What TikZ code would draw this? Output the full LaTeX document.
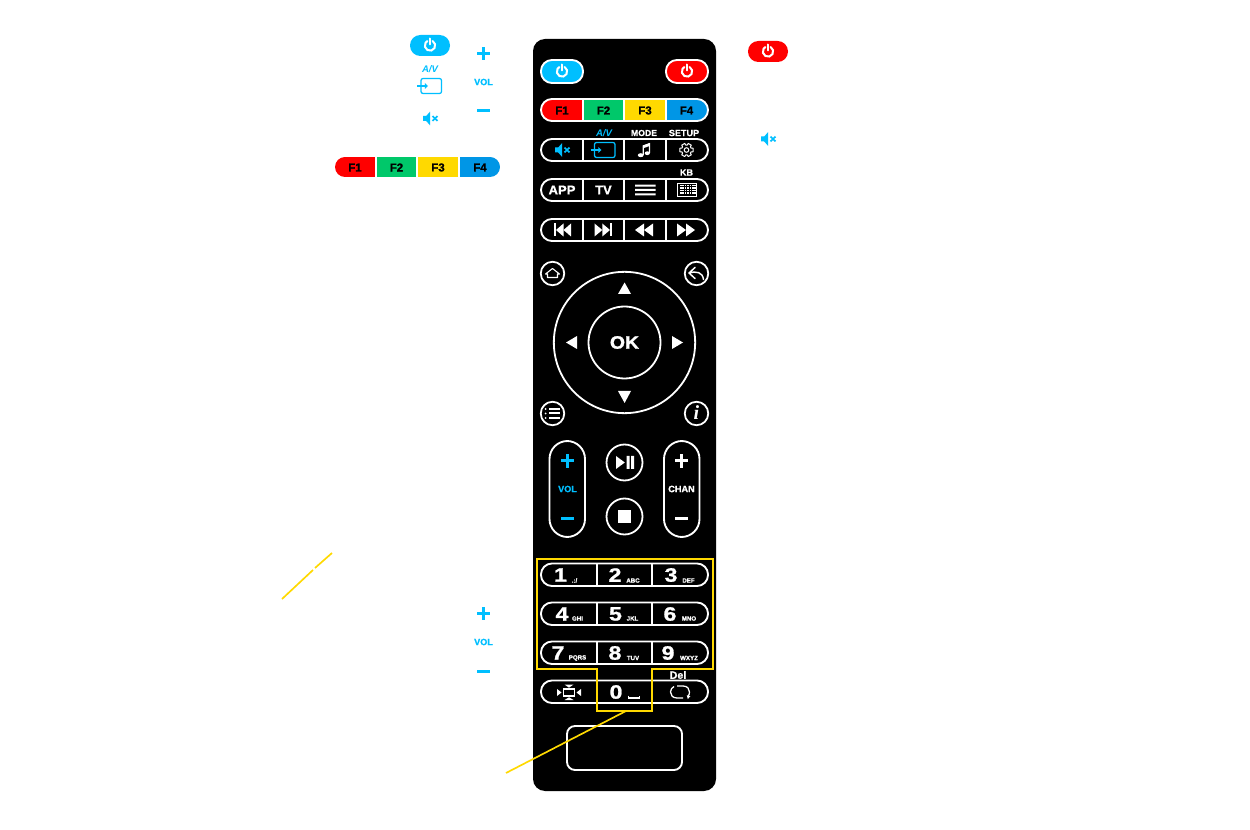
\documentclass[tikz,border=0pt]{standalone}
\usepackage{graphicx}
\usepackage{fontspec}
\setmainfont{Liberation Sans}[BoldFeatures={FakeBold=1.1}]
\newfontfamily\serifi{Liberation Serif}
\definecolor{cy}{HTML}{00BFFF}
\definecolor{rd}{HTML}{FF0000}
\definecolor{gr}{HTML}{00C86A}
\definecolor{yl}{HTML}{FFD900}
\definecolor{bl}{HTML}{0096E6}
\newcommand{\fs}[1]{\fontsize{#1}{#1}\selectfont\bfseries}
\tikzset{
  lbl/.style={inner sep=0pt,outer sep=0pt,text=white,font=\fs{6.8}},
  cyl/.style={inner sep=0pt,outer sep=0pt,text=cy,font=\fs{6.8}},
  blk/.style={inner sep=0pt,outer sep=0pt,text=black,font=\fs{8.6}},
  btn/.style={inner sep=0pt,outer sep=0pt,text=white,font=\fs{9.6}},
  dig/.style={inner sep=0pt,outer sep=0pt,text=white,font=\fs{14.5}},
  sm/.style={inner sep=0pt,outer sep=0pt,text=white,font=\fs{4.6}},
  wl/.style={draw=white,line width=1.4pt},
  pill/.style={draw=white,line width=1.4pt,rounded corners=8.2pt},
  ring/.style={circle,draw=white,line width=1.35pt,inner sep=0pt,outer sep=0pt},
  tri/.style={fill=white,draw=none},
  pics/pwr/.style={code={
    \draw[line width=1.5pt,line cap=round] (-60:5.2) arc[start angle=-60,end angle=240,radius=5.2];
    \draw[line width=1.5pt,line cap=round] (0,-7) -- (0,-1);}},
  pics/mute/.style={code={
    \fill (-8,-2.5) -- (-4.8,-2.5) -- (-1,-6.8) -- (-1,6.8) -- (-4.8,2.5) -- (-8,2.5) -- cycle;
    \draw[line width=1.25pt] (1.5,-2.4) -- (6.5,2.4) (1.5,2.4) -- (6.5,-2.4);}},
  pics/input/.style={code={
    \draw[line width=.95pt,rounded corners=1.5pt] (-10,-7.5) rectangle (10.5,7.5);
    \draw[line width=1.1pt] (-14,0) -- (-5,0);
    \fill (-3,0) -- (-6.2,-3) -- (-6.2,3) -- cycle;}},
  pics/plusm/.style={code={
    \fill (-6.7,-1.5) rectangle (6.7,1.5);
    \fill (-1.5,-6.7) rectangle (1.5,6.7);}},
  pics/minusm/.style={code={
    \fill (-6.7,-1.5) rectangle (6.7,1.5);}},
}
\begin{document}
\begin{tikzpicture}[x=0.75pt,y=-0.75pt]
\useasboundingbox (0,0) rectangle (1250,830);
\fill[white] (0,0) rectangle (1250,830);

% yellow callout outside of the remote
\coordinate (ya) at (332,553);
\coordinate (yb) at (315,568);
\coordinate (yc) at (313,570);
\coordinate (yd) at (282,599);
\draw[yl,line width=1.25pt] (ya) -- (yb) (yc) -- (yd);

% left legend
\path[fill=cy,rounded corners=7.8pt] (410,35) rectangle (450,56);
\node[inner sep=0pt] (legpow) at (430,45.5) {};
\pic[white] at (legpow) {pwr};
\node[cyl,font=\fs{7.2}\itshape] (legav) at (430,69) {A/V};
\pic[cy] at (431,86) {input};
\pic[cy] at (431,118.5) {mute};
\pic[cy] at (483.5,53.5) {plusm};
\node[cyl,font=\fs{6.8}] (legvol) at (483.5,82) {VOL};
\pic[cy] at (483.5,111) {minusm};
\pic[cy] at (483.5,613.5) {plusm};
\node[cyl,font=\fs{6.8}] (legvolb) at (483.5,642) {VOL};
\pic[cy] at (483.5,671) {minusm};

% legend F bar
\begin{scope}
\clip[rounded corners=7.5pt] (335,157) rectangle (500,177);
\fill[rd] (335,157) rectangle (375,177);
\fill[gr] (377,157) rectangle (416,177);
\fill[yl] (418,157) rectangle (458,177);
\fill[bl] (460,157) rectangle (500,177);
\end{scope}
\node[blk] (lf1) at (355,167.5) {F1};
\node[blk] (lf2) at (396.5,167.5) {F2};
\node[blk] (lf3) at (438,167.5) {F3};
\node[blk] (lf4) at (480,167.5) {F4};

% right legend
\path[fill=rd,rounded corners=7.8pt] (748,41) rectangle (788,62);
\node[inner sep=0pt] (legpowr) at (768,51.5) {};
\pic[white] at (legpowr) {pwr};
\pic[cy] at (769,139) {mute};

% remote body
\fill[black,rounded corners=9pt] (533,39) rectangle (716,791);

% power buttons
\path[fill=cy,pill] (541,60) rectangle (583,83);
\pic[white] at (562,71.5) {pwr};
\path[fill=rd,pill] (666,60) rectangle (708,83);
\pic[white] at (687,71.5) {pwr};

% F row
\begin{scope}
\clip[rounded corners=8.2pt] (541,99) rectangle (708,121);
\fill[rd] (541,99) rectangle (583,121);
\fill[gr] (583,99) rectangle (624,121);
\fill[yl] (624,99) rectangle (666,121);
\fill[bl] (666,99) rectangle (708,121);
\end{scope}
\draw[pill] (541,99) rectangle (708,121);
\draw[wl] (583,99) -- (583,121) (624,99) -- (624,121) (666,99) -- (666,121);
\node[blk] (f1) at (562,110.5) {F1};
\node[blk] (f2) at (603.5,110.5) {F2};
\node[blk] (f3) at (645,110.5) {F3};
\node[blk] (f4) at (686.5,110.5) {F4};

% labels
\node[cyl,font=\fs{7.2}\itshape] (rav) at (604,133) {A/V};
\node[lbl,font=\fs{6.5}] (rmode) at (644,133) {MODE};
\node[lbl] (rsetup) at (684,133) {SETUP};
\node[lbl] (rkb) at (686.5,172.5) {KB};

% rows 3, 4, 5
\foreach \t/\b in {139/161,179/201,219/241}{
  \draw[pill] (541,\t) rectangle (708,\b);
  \draw[wl] (583,\t) -- (583,\b) (624,\t) -- (624,\b) (666,\t) -- (666,\b);
}
\pic[cy] at (563,150) {mute};
\pic[cy] at (604.5,150) {input};
% music note
\begin{scope}[shift={(644.5,150)},white]
  \fill (-3.8,5.2) ellipse (2.9 and 2);
  \fill (2.8,3.2) ellipse (2.6 and 1.9);
  \draw[line width=.95pt] (-1.3,5) -- (-1.3,-4) -- (5,-6.3) -- (5,3);
  \fill (-1.3,-4.5) -- (5,-6.8) -- (5,-4) -- (-1.3,-1.7) -- cycle;
\end{scope}
% gear
\begin{scope}[shift={(686.5,150)},white]
  \draw[line width=.75pt] (0,0) circle (2.3);
  \draw[line width=.75pt,line join=round]
    (-22:5) -- (-15:6.8) -- (15:6.8) -- (22:5) -- (38:4.9) -- (45:6.8) -- (75:6.8) -- (82:5)
    -- (98:5) -- (105:6.8) -- (135:6.8) -- (142:4.9) -- (158:5) -- (165:6.8) -- (195:6.8)
    -- (202:5) -- (218:4.9) -- (225:6.8) -- (255:6.8) -- (262:5) -- (278:5) -- (285:6.8)
    -- (315:6.8) -- (322:4.9) -- cycle;
\end{scope}
\node[btn] (app) at (562,190) {\scalebox{1.02}[1]{APP}};
\node[btn] (tv) at (603.5,190) {TV};
\fill[white] (635,184.7) rectangle (655.5,186.7) (635,189) rectangle (655.5,191) (635,193.3) rectangle (655.5,195.3);
% keyboard
\draw[white,line width=.7pt] (677.7,183) rectangle (696.7,196);
\foreach \r in {185.5,188,190.5,193.2}{
  \foreach \c in {0,...,6}{
    \fill[white] (679.9+\c*2.4,\r-.8) rectangle (681.5+\c*2.4,\r+.8);
  }
}
% media keys
\fill[white] (553.5,223.5) rectangle (555.5,236.5);
\fill[white] (556,230) -- (563.5,223.5) -- (563.5,236.5) -- cycle;
\fill[white] (563.5,230) -- (571,223.5) -- (571,236.5) -- cycle;
\fill[white] (610,223.5) rectangle (612,236.5);
\fill[white] (594.5,223.5) -- (602.3,230) -- (594.5,236.5) -- cycle;
\fill[white] (602.3,223.5) -- (610,230) -- (602.3,236.5) -- cycle;
\fill[white] (635,230) -- (644,223.5) -- (644,236.5) -- cycle;
\fill[white] (644,230) -- (653,223.5) -- (653,236.5) -- cycle;
\fill[white] (677,223.5) -- (686,230) -- (677,236.5) -- cycle;
\fill[white] (686,223.5) -- (695,230) -- (686,236.5) -- cycle;

% corner buttons and d-pad
\node[ring,minimum size=17.6pt] (home) at (552.5,273.5) {};
\node[ring,minimum size=17.6pt] (back) at (696.5,273.5) {};
\node[ring,minimum size=17.6pt] (list) at (552.5,413.5) {};
\node[ring,minimum size=17.6pt] (info) at (696.5,413.5) {};
\node[ring,minimum size=106pt] (dpad) at (624.5,342.5) {};
\node[ring,minimum size=54pt] (ok) at (624.5,342.5) {};
\node[inner sep=0pt,text=white,font=\fs{13.5}] (oktxt) at (624.5,342.5) {\scalebox{1.08}[1]{OK}};
\draw[white,line width=.8pt,line join=round,shift={(552.5,273.5)}]
  (-7,0.5) -- (0,-5) -- (7,0.5) -- (5,0.5) -- (5,4) -- (-5,4) -- (-5,0.5) -- cycle;
\draw[white,line width=1.1pt,line cap=round,line join=round,shift={(696.5,273.5)}]
  (-1.5,-6) -- (-7.5,-.5) -- (-1.5,5) (-7.5,-.5) .. controls (0,-2.5) and (6,-1.5) .. (7,6);
\begin{scope}[shift={(552.5,413.5)},white]
  \foreach \y in {-4.5,0,4.5}{
    \fill (-7,\y) circle (1);
    \fill (-3.7,\y-1) rectangle (7,\y+1);
  }
\end{scope}
\node[inner sep=0pt,text=white,font=\serifi\bfseries\itshape\fontsize{15}{15}\selectfont] (infoi) at (696.5,413) {i};
\fill[tri] (624.6,282.5) -- (631,294) -- (618,294) -- cycle;
\fill[tri] (624.6,403) -- (631,391) -- (618,391) -- cycle;
\fill[tri] (566,342.5) -- (577,336) -- (577,349) -- cycle;
\fill[tri] (683,342.5) -- (672,336) -- (672,349) -- cycle;

% volume / channel
\draw[wl,rounded corners=13.5pt] (549.5,441) rectangle (585,537);
\draw[wl,rounded corners=13.5pt] (664,441) rectangle (699.5,537);
\pic[cy] at (567.3,461) {plusm};
\node[cyl,font=\fs{6.8}] (rvol) at (567.5,489) {VOL};
\pic[cy] at (567.3,518.5) {minusm};
\pic[white] at (681.5,461) {plusm};
\node[lbl,font=\fs{6.9}] (rchan) at (681.5,489) {CHAN};
\pic[white] at (681.5,518.5) {minusm};
\node[ring,minimum size=27pt] (play) at (624.5,462.5) {};
\node[ring,minimum size=27pt] (stop) at (624.5,516.5) {};
\fill[white] (616,456) -- (624.8,462.5) -- (616,469) -- cycle;
\fill[white] (626.5,456) rectangle (629.5,469) (631,456) rectangle (634,469);
\fill[white] (618,510) rectangle (631,523);

% number rows
\foreach \t/\b in {563.5/586,602.5/625,641.5/664,680.5/703}{
  \draw[pill] (541,\t) rectangle (708,\b);
  \draw[wl] (597,\t) -- (597,\b) (652,\t) -- (652,\b);
}
\node[dig] (n1) at (560.5,575) {\scalebox{1.2}[1]{1}};
\node[dig] (n2) at (615,575) {\scalebox{1.2}[1]{2}};
\node[dig] (n3) at (671,575) {\scalebox{1.2}[1]{3}};
\node[dig] (n4) at (562,614) {\scalebox{1.2}[1]{4}};
\node[dig] (n5) at (615.5,614) {\scalebox{1.2}[1]{5}};
\node[dig] (n6) at (670,614) {\scalebox{1.2}[1]{6}};
\node[dig] (n7) at (558,653) {\scalebox{1.2}[1]{7}};
\node[dig] (n8) at (615,653) {\scalebox{1.2}[1]{8}};
\node[dig] (n9) at (668,653) {\scalebox{1.2}[1]{9}};
\node[dig] (n0) at (616,692) {\scalebox{1.2}[1]{0}};
\node[sm] (s1) at (574.5,580.5) {.:/};
\node[sm] (s2) at (633,580.5) {ABC};
\node[sm] (s3) at (688.5,580.5) {DEF};
\node[sm] (s4) at (577.5,618.5) {GHI};
\node[sm] (s5) at (632.5,618.5) {JKL};
\node[sm] (s6) at (689,618.5) {MNO};
\node[sm] (s7) at (577.5,658) {PQRS};
\node[sm] (s8) at (633,658) {TUV};
\node[sm] (s9) at (689,658) {WXYZ};
\draw[white,line width=.9pt] (628.5,695.5) -- (628.5,698) -- (639.5,698) -- (639.5,695.5);
\node[lbl,font=\fs{8}] (del) at (678,675) {Del};
% move icon
\begin{scope}[shift={(569,692.5)},white]
  \draw[line width=1.1pt] (-5.5,-3.3) rectangle (5.5,3.3);
  \fill (-12,-3.5) -- (-7.5,0) -- (-12,3.5) -- cycle;
  \fill (12,-3.5) -- (7.5,0) -- (12,3.5) -- cycle;
  \fill (-4.5,-8) -- (4.5,-8) -- (0,-4.8) -- cycle;
  \fill (-4.5,7.5) -- (4.5,7.5) -- (0,4.8) -- cycle;
\end{scope}
% repeat icon
\begin{scope}[shift={(680,692)},white]
  \draw[line width=.95pt] (-3,-6) -- (3,-6) .. controls (7.5,-6) and (9.5,-3) .. (9.5,0) .. controls (9.5,1.5) and (9,3) .. (8.3,4);
  \draw[line width=.95pt] (3,6) -- (-3,6) .. controls (-7.5,6) and (-9.5,3) .. (-9.5,0) .. controls (-9.5,-2.5) and (-8,-4.5) .. (-6,-5.5);
  \fill (7.8,7) -- (6.8,3.2) -- (10.4,4.2) -- cycle;
\end{scope}

% touch pad
\draw[wl,rounded corners=6pt] (567,726) rectangle (682,770);

% yellow selection outline
\coordinate (ylink) at (626,711);
\coordinate (yend) at (506,773);
\draw[yl,line width=1.5pt,line join=miter]
  (537,559) -- (712.5,559) -- (712.5,668.7) -- (652,668.7) -- (652,711) -- (597,711) -- (597,668.7) -- (537,668.7) -- cycle;
\draw[yl,line width=1.25pt] (ylink) -- (yend);
\end{tikzpicture}
\end{document}
